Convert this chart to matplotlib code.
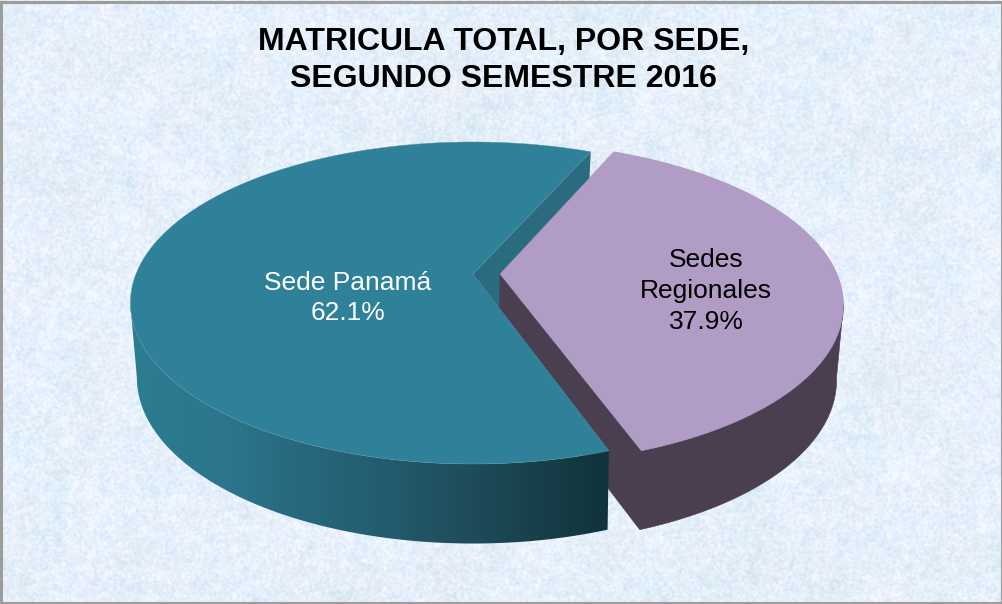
import numpy as np
import matplotlib
matplotlib.use("Agg")
import matplotlib.pyplot as plt
from matplotlib.colors import LinearSegmentedColormap
from matplotlib.patches import Polygon, Rectangle

# data
sedes = ["Sede Panamá", "Sedes\nRegionales"]
porcentajes = [62.1, 37.9]
titulo = "MATRICULA TOTAL, POR SEDE,\nSEGUNDO SEMESTRE 2016"

plt.rcParams["font.family"] = ["Liberation Sans", "DejaVu Sans"]

W, H = 1003, 604
fig = plt.figure(figsize=(W / 100, H / 100), dpi=100)
ax = fig.add_axes([0, 0, 1, 1])
ax.set_xlim(0, W)
ax.set_ylim(H, 0)
ax.axis("off")


# background paper texture (sine hash noise, blurred)
def blur(a, r):
    k = np.ones(2 * r + 1) / (2 * r + 1)
    f = np.fft.rfft2(a)
    kx = np.zeros(a.shape[1])
    ky = np.zeros(a.shape[0])
    for i, v in zip(range(-r, r + 1), k):
        kx[i] = v
        ky[i] = v
    return np.fft.irfft2(f * np.fft.rfft2(np.outer(ky, kx)), s=a.shape)


def noise(sx, sy):
    yy, xx = np.mgrid[0:H, 0:W]
    v = np.sin(xx * sx + yy * sy + xx * yy * 0.0007) * 43758.5453
    return v - np.floor(v)


def norm(a):
    return (a - a.mean()) / a.std()


fino = norm(blur(noise(12.9898, 78.233), 1))
medio = norm(blur(noise(39.346, 11.135), 4))
grande = norm(blur(noise(73.156, 52.235), 22))
claro = np.clip(0.6 + 0.17 * fino + 0.08 * medio + 0.05 * grande, 0, 1)
tinte = norm(blur(noise(25.17, 61.31), 14))
c0 = np.array([0.83, 0.89, 0.96])
c1 = np.array([0.95, 0.975, 1.0])
img = c0 + (c1 - c0) * claro[..., None]
img[..., 2] += 0.006 * grande
img[..., 0] += 0.008 * tinte
ax.imshow(np.clip(img, 0, 1), extent=(0, W, H, 0), aspect="auto", zorder=0, interpolation="bilinear")
ax.set_xlim(0, W)
ax.set_ylim(H, 0)
ax.add_patch(Rectangle((1, 1.5), W - 2, H - 3, fill=False, ec="#9c9c9c", lw=2.2, zorder=20))

# perspective of the pie: top and bottom discs
cx = 473
arriba = dict(y0=274, s=337, t=155.8, p=0.18)
abajo = dict(y0=346, s=330, t=160, p=0.19)
inicio = 66
explosion = 0.08
borde_izq = 191  # angle where the side leaves the top disc on the left
borde_der = 349  # same on the right


def proy(ang, r, d, disco):
    ang = np.atleast_1d(ang)
    X = r * np.cos(np.radians(ang)) + d
    Y = r * np.sin(np.radians(ang))
    w = 1 + disco["p"] * Y
    return np.column_stack([cx + disco["s"] * X / w, disco["y0"] - disco["t"] * Y / w])


total = sum(porcentajes)
a0 = inicio
a1 = a0 + 360 * porcentajes[0] / total
a2 = a1 + 360 * porcentajes[1] / total
arco_t = np.linspace(a0, a1, 240)
arco_m = np.linspace(a1, a2, 150)


def sector(arco, d, disco):
    return np.vstack([proy(0.0, 0.0, d, disco), proy(arco, 1.0, d, disco)])


def lateral(arco, d):
    return np.vstack([proy(arco, 1.0, d, arriba), proy(arco[::-1], 1.0, d, abajo)])


def pared(ang, d):
    return np.vstack([proy(0.0, 0.0, d, arriba), proy(ang, 1.0, d, arriba),
                      proy(ang, 1.0, d, abajo), proy(0.0, 0.0, d, abajo)])


verde = "#2e8198"
morado = "#b19cc6"
oscuro = "#4a3f50"

# inner wall of the teal slice, seen through the gap
ax.add_patch(Polygon(pared(a0, 0), fc="#2a6b80", ec="none", zorder=1))

# regional slice: wall and side as one shape, so no seam at the tip
arco_lado = np.linspace(a1, borde_der, 100)
ax.add_patch(Polygon(np.vstack([proy(0.0, 0.0, explosion, arriba), lateral(arco_lado, explosion),
                                proy(0.0, 0.0, explosion, abajo)]),
                     fc=oscuro, ec=oscuro, lw=0.4, zorder=2))

# panama slice: side with gradient along x
grad = LinearSegmentedColormap.from_list("g", [
    (0.0, "#2c7c92"), (0.2, "#2b768c"), (0.35, "#28687e"), (0.55, "#235a6c"),
    (0.75, "#1c4855"), (1.0, "#10323b")])
lado = Polygon(lateral(np.linspace(borde_izq, a1, 200), 0), fc="none", ec="none", zorder=3)
ax.add_patch(lado)
banda = ax.imshow(np.linspace(0, 1, 256)[None, :], cmap=grad, extent=(130, 612, 560, 260),
                  aspect="auto", zorder=3, interpolation="bilinear")
banda.set_clip_path(lado)
ax.set_xlim(0, W)
ax.set_ylim(H, 0)

# top faces
ax.add_patch(Polygon(sector(arco_t, 0, arriba), fc=verde, ec="#5a93a5", lw=0.3, zorder=4))
ax.add_patch(Polygon(sector(arco_m, explosion, arriba), fc=morado, ec="#9d90ae", lw=0.3, zorder=5))

# text
ax.text(503.5, 60.5, titulo, ha="center", va="center", fontsize=23, fontweight="bold",
        color="black", linespacing=1.3, zorder=6)
ax.text(348, 298, f"{sedes[0]}\n{porcentajes[0]}%", ha="center", va="center", fontsize=19,
        color="white", linespacing=1.33, zorder=6)
ax.text(706, 291, f"{sedes[1]}\n{porcentajes[1]}%", ha="center", va="center", fontsize=19,
        color="black", linespacing=1.36, zorder=6)

fig.savefig("out.png", dpi=100)
